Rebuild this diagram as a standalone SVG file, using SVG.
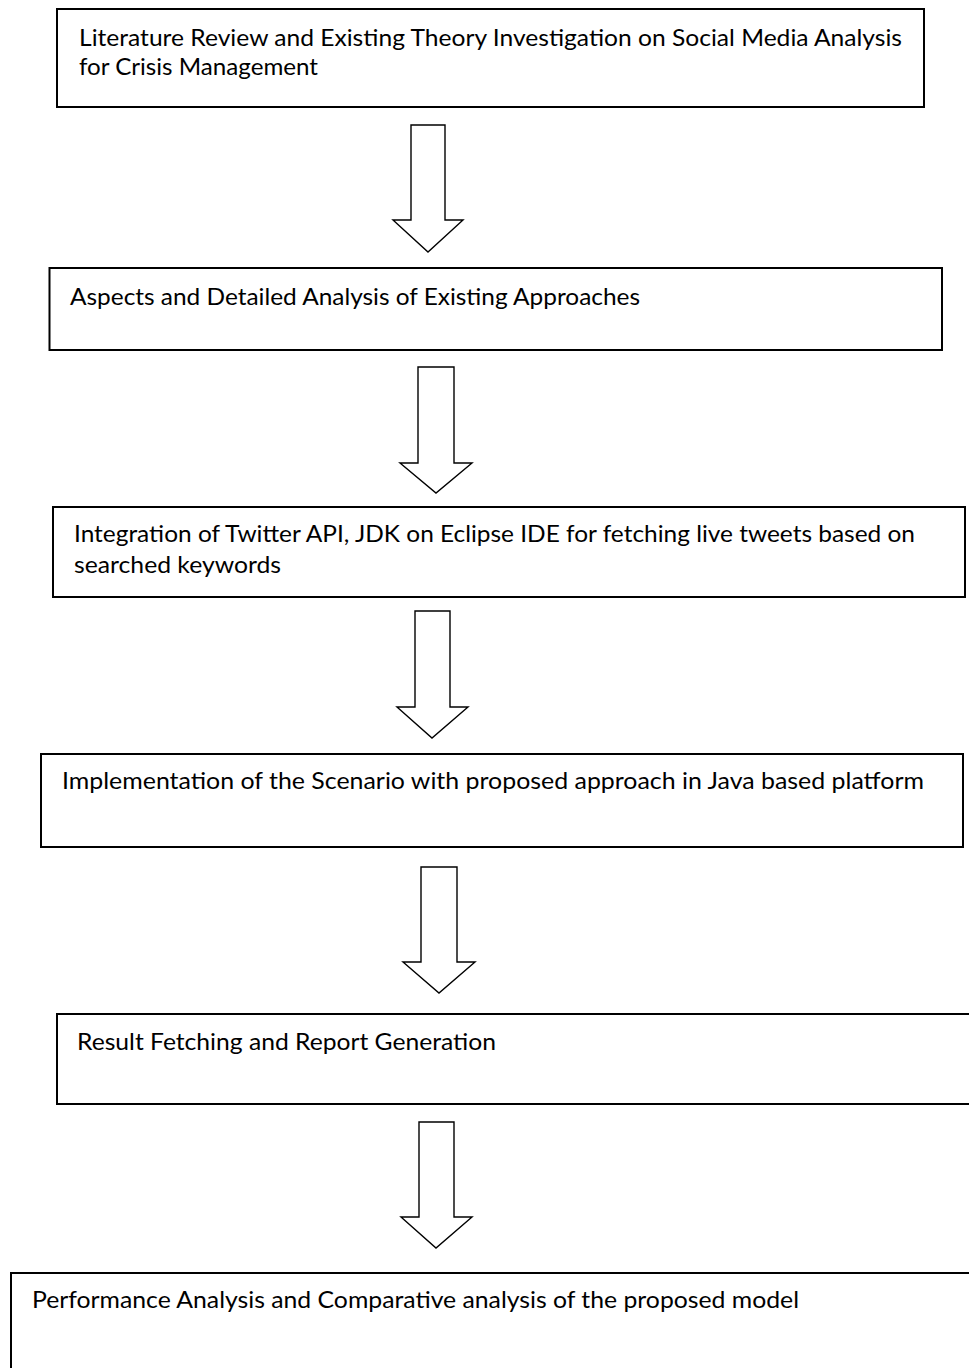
<svg xmlns="http://www.w3.org/2000/svg" width="969" height="1368" viewBox="0 0 969 1368">
<style>
.box{fill:#fff;stroke:#000;stroke-width:2}
.arr{fill:#fff;stroke:#000;stroke-width:1.4;stroke-linejoin:miter}
.t{font-family:Lato,"Open Sans","Liberation Sans",sans-serif;font-size:22.5px;fill:#000}
</style>
<rect width="969" height="1368" fill="#fff"/>
<g id="connectors">
<polygon class="arr" points="411,125 445,125 445,220 463,220 428,252 393,220 411,220"/>
<polygon class="arr" points="418,367 454,367 454,463 472,463 436,493 400,463 418,463"/>
<polygon class="arr" points="415,611 450,611 450,707 468,707 432,738 397,707 415,707"/>
<polygon class="arr" points="421,867 457,867 457,962 475,962 439,993 403,962 421,962"/>
<polygon class="arr" points="419,1122 454,1122 454,1217 472,1217 436,1248 401,1217 419,1217"/>
</g>
<g id="node1">
<rect class="box" x="57" y="9" width="867" height="98"/>
<text class="t" x="79" y="46" textLength="823" lengthAdjust="spacingAndGlyphs">Literature Review and Existing Theory Investigation on Social Media Analysis</text>
<text class="t" x="79" y="75" textLength="239" lengthAdjust="spacingAndGlyphs">for Crisis Management</text>
</g>
<g id="node2">
<rect class="box" x="49.5" y="268" width="892.5" height="82"/>
<text class="t" x="70" y="305" textLength="570" lengthAdjust="spacingAndGlyphs">Aspects and Detailed Analysis of Existing Approaches</text>
</g>
<g id="node3">
<rect class="box" x="53" y="507" width="912" height="90"/>
<text class="t" x="74" y="542" textLength="841" lengthAdjust="spacingAndGlyphs">Integration of Twitter API, JDK on Eclipse IDE for fetching live tweets based on</text>
<text class="t" x="74" y="573" textLength="207" lengthAdjust="spacingAndGlyphs">searched keywords</text>
</g>
<g id="node4">
<rect class="box" x="41" y="754" width="922" height="93"/>
<text class="t" x="62" y="789" textLength="862" lengthAdjust="spacingAndGlyphs">Implementation of the Scenario with proposed approach in Java based platform</text>
</g>
<g id="node5">
<rect class="box" x="57" y="1014" width="960" height="90"/>
<text class="t" x="77" y="1050" textLength="419" lengthAdjust="spacingAndGlyphs">Result Fetching and Report Generation</text>
</g>
<g id="node6">
<rect class="box" x="11" y="1273" width="1000" height="150"/>
<text class="t" x="32" y="1308" textLength="767" lengthAdjust="spacingAndGlyphs">Performance Analysis and Comparative analysis of the proposed model</text>
</g>
</svg>
